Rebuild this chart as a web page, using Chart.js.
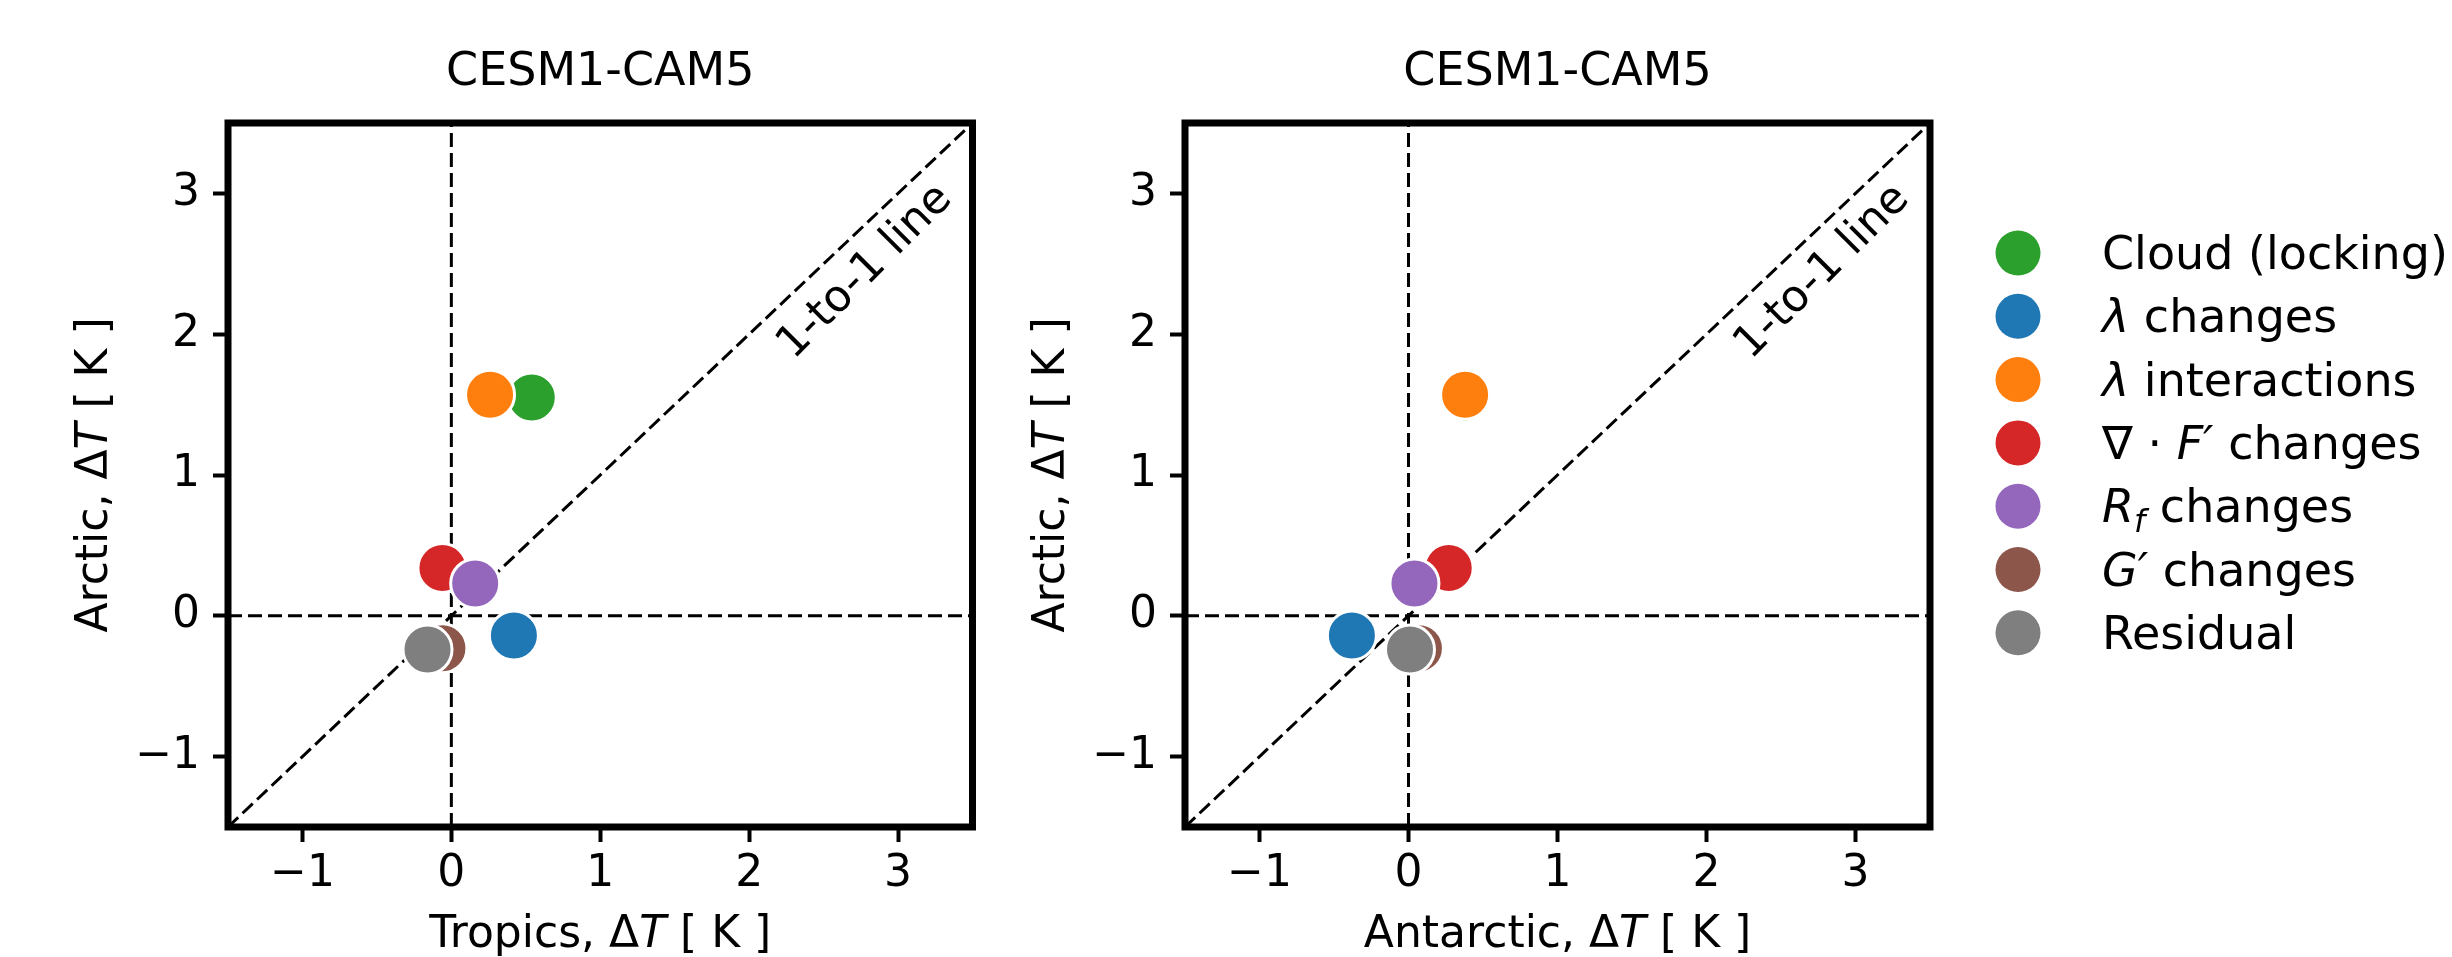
<!DOCTYPE html>
<html>
<head>
<meta charset="utf-8">
<script src="https://cdn.jsdelivr.net/npm/chart.js@4.4.0/dist/chart.umd.min.js"></script>
<style>
  html, body { margin: 0; padding: 0; background: #fff; }
  #wrap { position: relative; width: 2452px; height: 957px; }
  canvas { position: absolute; top: 0; }
</style>
</head>
<body>
<div id="wrap">
  <canvas id="left" width="1000" height="957" style="left:0"></canvas>
  <canvas id="right" width="1452" height="957" style="left:1000px"></canvas>
</div>
<script>
// series (legend order); $..$ = italic math, _x = subscript
const seriesNames = ['Cloud (locking)', '$λ$ changes', '$λ$ interactions', '∇ · $F′$ changes', '$R_f$ changes', '$G′$ changes', 'Residual'];
const seriesColors = ['#2ca02c', '#1f77b4', '#ff7f0e', '#d62728', '#9467bd', '#8c564b', '#7f7f7f'];

// Arctic warming (y in both panels)
const arcticDT = [1.55, -0.14, 1.57, 0.34, 0.23, -0.23, -0.24];
// x of left panel
const tropicsDT = [0.54, 0.42, 0.26, -0.06, 0.16, -0.06, -0.16];
// x of right panel
const antarcticDT = [0.38, -0.38, 0.38, 0.27, 0.04, 0.07, 0.01];

const tickValues = [-1, 0, 1, 2, 3];
const axisMin = -1.5;
const axisMax = 3.5;
const oneToOneLabelPos = [2.78, 2.44];

const FONT = '"DejaVu Sans", sans-serif';

function parseRich(str) {
  const parts = [];
  str.split('$').forEach((seg, k) => {
    if (k % 2 === 0) {
      if (seg) parts.push({ t: seg, it: false, sub: false });
    } else {
      for (let j = 0; j < seg.length; j++) {
        if (seg[j] === '_') { parts.push({ t: seg[j + 1], it: true, sub: true }); j++; }
        else parts.push({ t: seg[j], it: true, sub: false });
      }
    }
  });
  return parts;
}

function drawRich(ctx, str, x, y, size, align) {
  const parts = parseRich(str);
  const fontOf = p => (p.it ? 'italic ' : '') + (p.sub ? Math.round(size * 0.7) : size) + 'px ' + FONT;
  let w = 0;
  parts.forEach(p => { ctx.font = fontOf(p); p.w = ctx.measureText(p.t).width; w += p.w; });
  let cx = align === 'center' ? x - w / 2 : x;
  ctx.textAlign = 'left';
  ctx.textBaseline = 'alphabetic';
  parts.forEach(p => {
    ctx.font = fontOf(p);
    ctx.fillText(p.t, cx, y + (p.sub ? size * 0.22 : 0));
    cx += p.w;
  });
}

const fmt = v => (v < 0 ? '\u2212' + Math.abs(v) : String(v));

// frame, titles, axis labels, 1-to-1 text, legend
const decorPlugin = {
  id: 'decor',
  afterDraw(chart, args, o) {
    const { ctx, chartArea: a, scales: { x, y } } = chart;
    const cxm = (a.left + a.right) / 2, cym = (a.top + a.bottom) / 2;
    ctx.save();
    ctx.fillStyle = '#000';

    // 1-to-1 annotation
    ctx.save();
    ctx.translate(x.getPixelForValue(oneToOneLabelPos[0]), y.getPixelForValue(oneToOneLabelPos[1]));
    ctx.rotate(-Math.PI / 4);
    ctx.font = '44px ' + FONT;
    ctx.textAlign = 'center';
    ctx.textBaseline = 'middle';
    ctx.fillText('1-to-1 line', 0, 0);
    ctx.restore();

    // frame
    ctx.strokeStyle = '#000';
    ctx.lineWidth = 7;
    ctx.strokeRect(a.left, a.top, a.right - a.left, a.bottom - a.top);

    // title
    ctx.font = '46px ' + FONT;
    ctx.textAlign = 'center';
    ctx.textBaseline = 'alphabetic';
    ctx.fillText(o.title, cxm, 85);

    // axis labels
    drawRich(ctx, o.xLabel, cxm, 947, 44, 'center');
    ctx.save();
    ctx.translate(a.left - 121, cym);
    ctx.rotate(-Math.PI / 2);
    drawRich(ctx, o.yLabel, 0, 0, 44, 'center');
    ctx.restore();

    // legend
    if (o.legend) {
      seriesNames.forEach((name, i) => {
        const ly = 253 + i * 63.3;
        ctx.beginPath();
        ctx.arc(a.right + 88, ly, 22.5, 0, Math.PI * 2);
        ctx.fillStyle = seriesColors[i];
        ctx.fill();
        ctx.fillStyle = '#000';
        drawRich(ctx, name, a.right + 172, ly + 16, 46, 'left');
      });
    }
    ctx.restore();
  }
};

function makeScale(axis, size) {
  return {
    type: 'linear',
    position: axis === 'x' ? 'bottom' : 'left',
    min: axisMin,
    max: axisMax,
    afterBuildTicks: s => { s.ticks = tickValues.map(v => ({ value: v })); },
    afterFit: s => { if (axis === 'x') s.height = size; else s.width = size; },
    grid: {
      drawOnChartArea: false,
      drawTicks: true,
      tickLength: 15,
      tickWidth: 4,
      tickColor: '#000',
      color: '#000'
    },
    border: { display: false },
    ticks: {
      font: { family: FONT, size: 44 },
      color: '#000',
      padding: axis === 'x' ? 6 : 13,
      maxRotation: 0,
      autoSkip: false,
      callback: v => fmt(v)
    }
  };
}

function buildChart(id, xValues, xLabel, yAxisWidth, rightPad, legend) {
  const pointSets = seriesNames.map((name, i) => ({
    label: name,
    data: [{ x: xValues[i], y: arcticDT[i] }],
    backgroundColor: seriesColors[i],
    borderColor: '#ffffff',
    borderWidth: 3,
    pointRadius: 24.5,
    pointHoverRadius: 24.5,
    order: seriesNames.length - i
  }));
  const refLine = (pts) => ({
    data: pts,
    showLine: true,
    borderColor: '#000',
    borderWidth: 3,
    borderDash: [14, 6],
    pointRadius: 0,
    fill: false,
    order: 100
  });
  const lineSets = [
    refLine([{ x: 0, y: axisMin }, { x: 0, y: axisMax }]),
    refLine([{ x: axisMin, y: 0 }, { x: axisMax, y: 0 }]),
    refLine([{ x: axisMin, y: axisMin }, { x: axisMax, y: axisMax }])
  ];
  return new Chart(document.getElementById(id), {
    type: 'scatter',
    data: { datasets: pointSets.concat(lineSets) },
    options: {
      responsive: false,
      animation: false,
      events: [],
      devicePixelRatio: 1,
      layout: { padding: { top: 123, right: rightPad, bottom: 0, left: 0 } },
      scales: {
        x: makeScale('x', 130),
        y: makeScale('y', yAxisWidth)
      },
      plugins: {
        legend: { display: false },
        tooltip: { enabled: false },
        decor: {
          title: 'CESM1-CAM5',
          xLabel: xLabel,
          yLabel: 'Arctic, Δ$T$ [ K ]',
          legend: legend
        }
      }
    },
    plugins: [decorPlugin]
  });
}

buildChart('left', tropicsDT, 'Tropics, Δ$T$ [ K ]', 228, 27, false);
buildChart('right', antarcticDT, 'Antarctic, Δ$T$ [ K ]', 185, 522, true);
</script>
</body>
</html>
